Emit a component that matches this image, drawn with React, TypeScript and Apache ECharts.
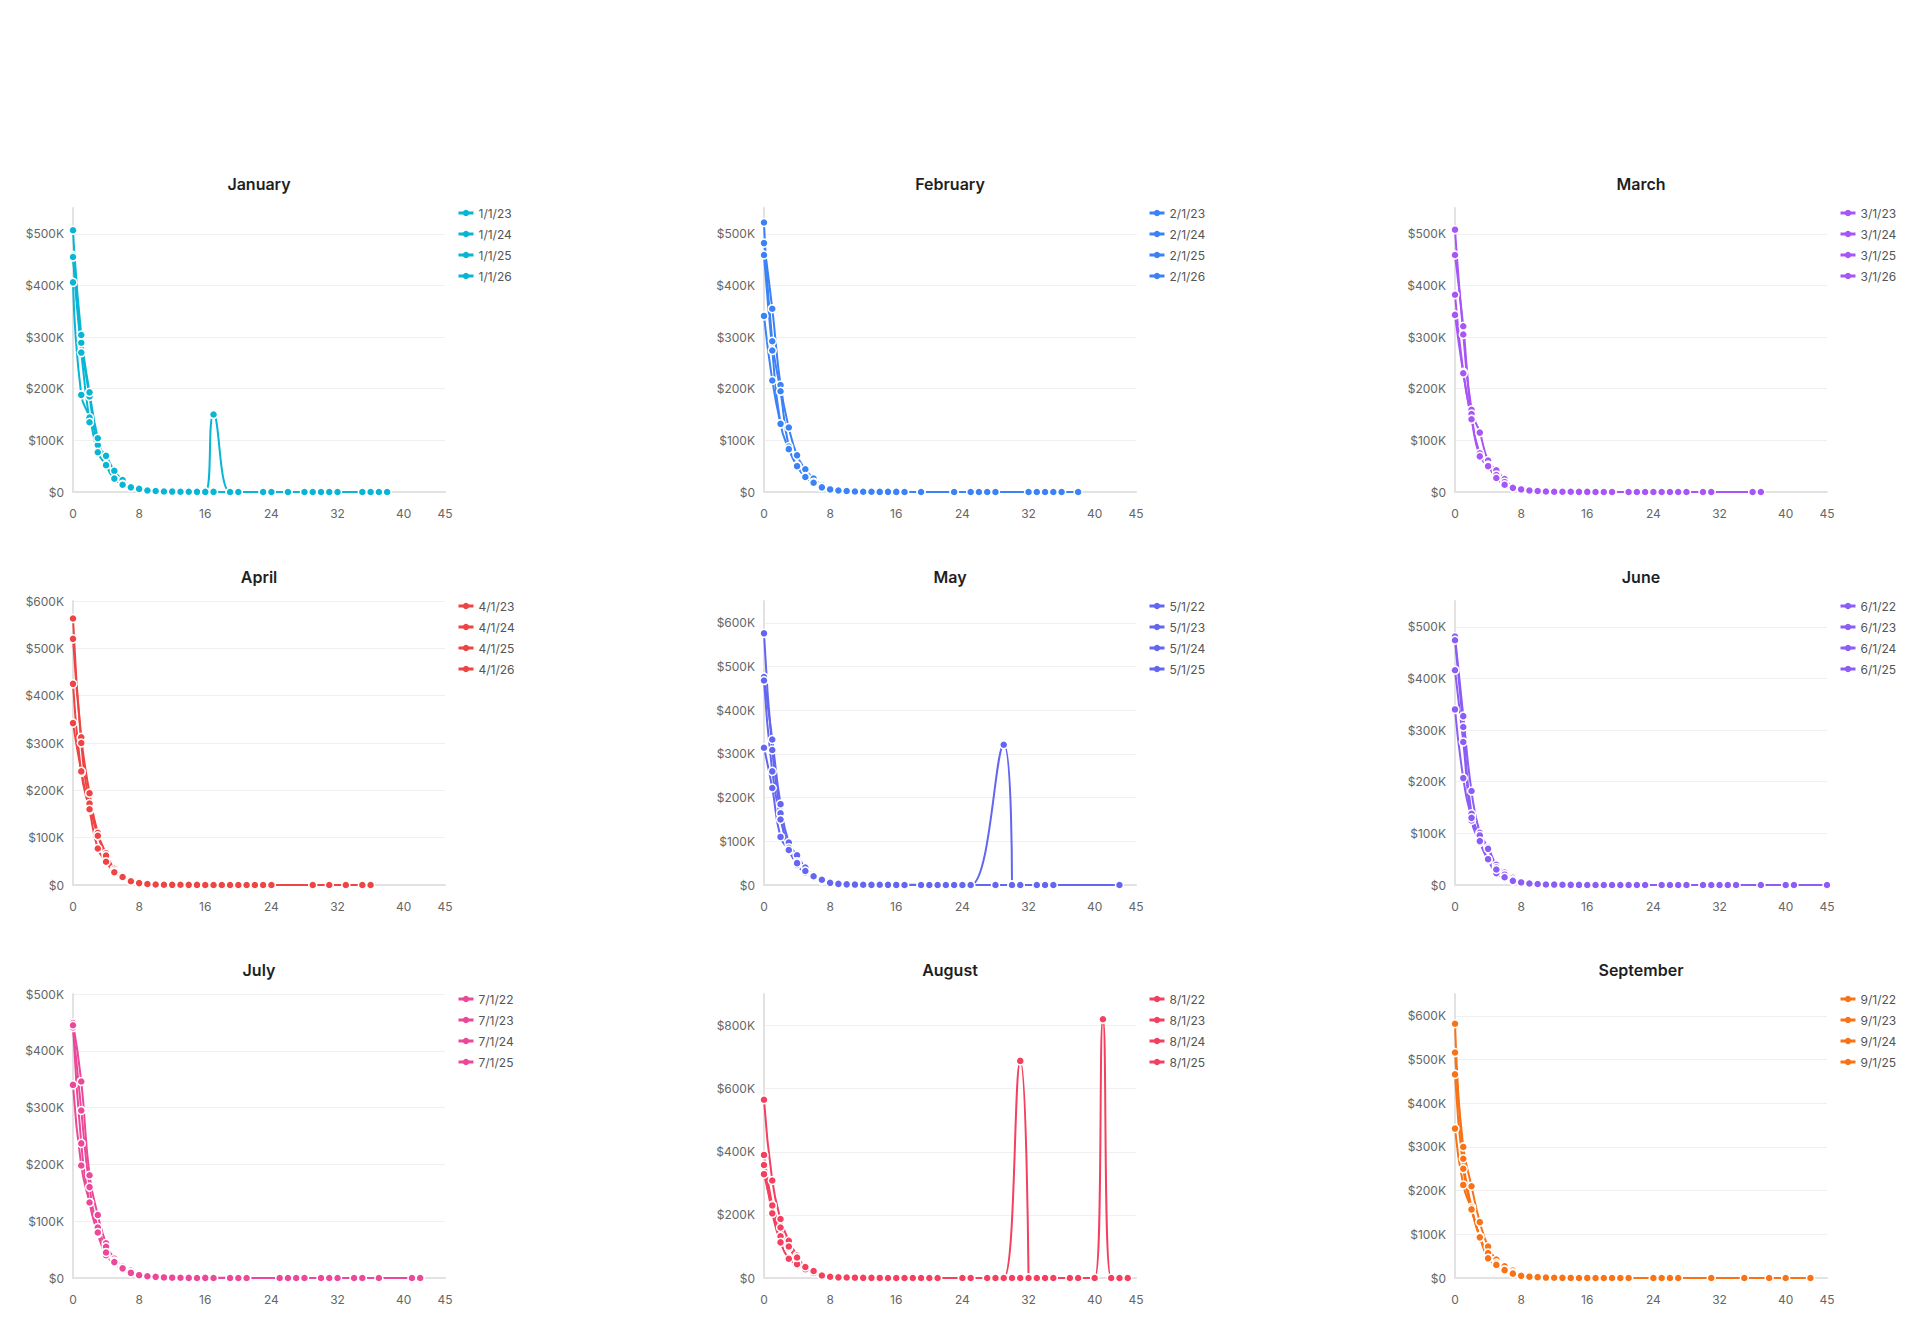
import React, { useEffect, useRef } from "react";
import * as echarts from "echarts";

// Cohort revenue decay by month, one panel per start month.
// Values are in thousands of dollars; x is the period index since the cohort start.

const janCohorts = ["1/1/23", "1/1/24", "1/1/25", "1/1/26"];
const janValues = [
  [[0,458],[1,289],[2,185],[3,91],[4,70],[5,41],[6,23],[7,12],[8,8],[9,3.5],[10,2.6],[11,1.6],[12,1.2],[13,0.9],[14,0.6],[15,0.5],[16,0.4],[17,0.3],[19,0.2],[20,0.2],[23,0.1],[24,0.1],[26,0.1],[28,0],[29,0],[30,0],[31,0],[32,0],[35,0],[36,0],[37,0],[38,0]],
  [[0,507],[1,304],[2,193],[3,104],[4,53],[5,26],[6,15],[7,10],[8,6],[9,3],[10,2],[11,1.2],[12,0.9],[13,0.6],[14,0.4],[15,0.3],[16,0.2],[17,150],[19,0],[20,0],[23,0],[24,0],[26,0]],
  [[0,406],[1,188],[2,144],[3,77],[4,52],[5,26],[6,14],[7,9],[8,6],[9,3],[10,2],[11,1],[12,0.8],[13,0.5]],
  [[0,455],[1,270],[2,135]],
];

const febCohorts = ["2/1/23", "2/1/24", "2/1/25", "2/1/26"];
const febValues = [
  [[0,482],[1,355],[2,207],[3,125],[4,71],[5,44],[6,26],[7,13.5],[8,7],[9,4],[10,2.5],[11,1.8],[12,1.2],[13,0.9],[14,0.6],[15,0.5],[16,0.4],[17,0.3],[19,0.2],[23,0.1],[25,0.1],[26,0],[27,0],[28,0],[32,0],[33,0],[34,0],[35,0],[36,0],[38,0]],
  [[0,522],[1,292],[2,195],[3,88],[4,51],[5,30],[6,19],[7,10],[8,6],[9,3.5],[10,2],[11,1.4],[12,1],[13,0.7],[14,0.5],[15,0.3],[16,0.2],[17,0.1],[19,0],[23,0],[25,0],[26,0],[27,0]],
  [[0,459],[1,274],[2,132],[3,83],[4,50],[5,29],[6,18],[7,9],[8,5],[9,3],[10,2],[11,1],[12,0.6],[13,0.4],[14,0.2]],
  [[0,341],[1,216],[2,132]],
];

const marCohorts = ["3/1/23", "3/1/24", "3/1/25", "3/1/26"];
const marValues = [
  [[0,459],[1,321],[2,159],[3,115],[4,61],[5,42],[6,25],[7,10],[8,6],[9,3.5],[10,2.5],[11,1.8],[12,1.2],[13,0.9],[14,0.7],[15,0.5],[16,0.4],[17,0.3],[18,0.2],[19,0.2],[21,0.1],[22,0.1],[23,0.1],[24,0],[25,0],[26,0],[27,0],[28,0],[30,0],[31,0],[36,0],[37,0]],
  [[0,508],[1,305],[2,151],[3,75],[4,52],[5,33],[6,19],[7,9],[8,5],[9,3],[10,2],[11,1.4],[12,1],[13,0.7],[14,0.5],[15,0.3],[16,0.2],[17,0.1],[18,0],[19,0],[21,0],[22,0],[23,0],[24,0],[25,0]],
  [[0,382],[1,232],[2,141],[3,69],[4,50],[5,27],[6,14],[7,8],[8,5],[9,3],[10,2],[11,1],[12,0.6],[13,0.4]],
  [[0,343],[1,230],[2,141]],
];

const aprCohorts = ["4/1/23", "4/1/24", "4/1/25", "4/1/26"];
const aprValues = [
  [[0,520],[1,312],[2,194],[3,110],[4,67],[5,34],[6,19],[7,10],[8,5],[9,3],[10,2],[11,1.5],[12,1],[13,0.8],[14,0.6],[15,0.5],[16,0.4],[17,0.3],[18,0.2],[19,0.2],[20,0.1],[21,0.1],[22,0.1],[23,0],[24,0],[29,0],[31,0],[33,0],[35,0],[36,0]],
  [[0,563],[1,300],[2,172],[3,104],[4,62],[5,30],[6,18],[7,9],[8,4],[9,2.5],[10,1.5],[11,1],[12,0.7],[13,0.5],[14,0.3],[15,0.2],[16,0.1],[17,0],[18,0],[19,0],[20,0],[21,0],[22,0],[23,0],[24,0]],
  [[0,425],[1,238],[2,158],[3,77],[4,49],[5,27],[6,17],[7,8],[8,4],[9,2],[10,1],[11,0.6],[12,0.4]],
  [[0,342],[1,240],[2,160]],
];

const mayCohorts = ["5/1/22", "5/1/23", "5/1/24", "5/1/25"];
const mayValues = [
  [[0,476],[1,333],[2,185],[3,97],[4,68],[5,40],[6,23],[7,13],[8,8],[9,4],[10,3],[11,2],[12,1.5],[13,1],[14,0.8],[15,0.6],[16,0.5],[17,0.4],[19,0.3],[20,0.2],[21,0.2],[22,0.1],[23,0.1],[24,0.1],[25,0],[28,0],[30,0],[31,0],[33,0],[34,0],[35,0],[43,0]],
  [[0,576],[1,309],[2,164],[3,78],[4,53],[5,30],[6,20],[7,11],[8,6],[9,3],[10,2],[11,1.4],[12,1],[13,0.7],[14,0.5],[15,0.3],[16,0.2],[17,0.1],[19,0],[20,0],[21,0],[22,0],[23,0],[24,0],[25,0],[29,321],[30,0]],
  [[0,468],[1,260],[2,150],[3,85],[4,46],[5,28],[6,18],[7,10],[8,5],[9,2.5],[10,1.5],[11,1],[12,0.6],[13,0.3]],
  [[0,314],[1,222],[2,110],[3,80],[4,50],[5,32],[6,20],[7,12]],
];

const junCohorts = ["6/1/22", "6/1/23", "6/1/24", "6/1/25"];
const junValues = [
  [[0,481],[1,327],[2,182],[3,101],[4,73],[5,39],[6,24],[7,14],[8,7],[9,3.5],[10,2.5],[11,2],[12,1.5],[13,1.2],[14,1],[15,0.8],[16,0.6],[17,0.5],[18,0.4],[19,0.3],[20,0.3],[21,0.2],[22,0.2],[23,0.1],[25,0.1],[26,0],[27,0],[28,0],[30,0],[31,0],[32,0],[33,0],[34,0],[37,0],[40,0],[41,0],[45,0]],
  [[0,474],[1,306],[2,138],[3,96],[4,70],[5,34],[6,20],[7,10],[8,6],[9,3],[10,2],[11,1.5],[12,1],[13,0.8],[14,0.6],[15,0.4],[16,0.3],[17,0.2],[18,0.1],[19,0],[20,0],[21,0],[22,0],[23,0],[25,0],[26,0],[27,0],[28,0],[30,0]],
  [[0,416],[1,277],[2,125],[3,82],[4,48],[5,23],[6,13],[7,8],[8,5],[9,3],[10,2],[11,1],[12,0.8],[13,0.5],[14,0.3],[15,0.2],[16,0.1],[17,0],[18,0]],
  [[0,340],[1,207],[2,130],[3,85],[4,50],[5,30],[6,15],[7,8]],
];

const julCohorts = ["7/1/22", "7/1/23", "7/1/24", "7/1/25"];
const julValues = [
  [[0,449],[1,346],[2,181],[3,111],[4,61],[5,34],[6,20],[7,13],[8,7],[9,4],[10,2.5],[11,2],[12,1.5],[13,1.2],[14,1],[15,0.8],[16,0.6],[17,0.5],[19,0.4],[20,0.3],[21,0.2],[25,0.1],[26,0.1],[27,0],[28,0],[30,0],[31,0],[32,0],[34,0],[35,0],[37,0],[41,0],[42,0]],
  [[0,441],[1,295],[2,160],[3,89],[4,55],[5,30],[6,17],[7,10],[8,6],[9,3.5],[10,2],[11,1.5],[12,1],[13,0.8],[14,0.5],[15,0.3],[16,0.2],[17,0.1],[19,0],[20,0],[21,0],[25,0],[26,0],[27,0],[28,0]],
  [[0,445],[1,237],[2,133],[3,78],[4,40],[5,26],[6,15],[7,9],[8,5],[9,3],[10,2],[11,1],[12,0.6],[13,0.4],[14,0.2],[15,0.1]],
  [[0,340],[1,198],[2,133],[3,80],[4,45],[5,28],[6,17]],
];

const augCohorts = ["8/1/22", "8/1/23", "8/1/24", "8/1/25"];
const augValues = [
  [[0,565],[1,309],[2,187],[3,118],[4,71],[5,32],[6,20],[7,10],[8,5],[9,3],[10,2.5],[11,2],[12,1.5],[13,1.2],[14,1],[15,0.8],[16,0.6],[17,0.5],[18,0.4],[19,0.3],[20,0.2],[21,0.2],[24,0.1],[25,0.1],[27,0],[28,0],[29,0],[30,0],[31,0],[32,0],[33,0],[34,0],[35,0],[37,0],[38,0],[40,0],[41,820],[42,0],[43,0],[44,0]],
  [[0,390],[1,230],[2,132],[3,95],[4,60],[5,30],[6,18],[7,9],[8,5],[9,3],[10,2],[11,1.5],[12,1],[13,0.8],[14,0.6],[15,0.4],[16,0.3],[17,0.2],[18,0.1],[19,0],[20,0],[21,0],[24,0],[25,0],[27,0],[28,0],[29,0],[31,688],[32,0]],
  [[0,358],[1,205],[2,113],[3,61],[4,44],[5,28],[6,16],[7,8],[8,4],[9,2],[10,1.5],[11,1],[12,0.6],[13,0.4],[14,0.2],[15,0.1],[16,0],[17,0]],
  [[0,329],[1,230],[2,160],[3,100],[4,65],[5,35],[6,22]],
];

const sepCohorts = ["9/1/22", "9/1/23", "9/1/24", "9/1/25"];
const sepValues = [
  [[0,516],[1,300],[2,210],[3,128],[4,72],[5,42],[6,27],[7,17],[8,7],[9,4],[10,3],[11,2.5],[12,2],[13,1.5],[14,1.2],[15,1],[16,0.8],[17,0.6],[18,0.5],[19,0.4],[20,0.3],[21,0.2],[24,0.1],[25,0.1],[26,0],[27,0],[31,0],[35,0],[38,0],[40,0],[43,0]],
  [[0,582],[1,273],[2,162],[3,93],[4,57],[5,34],[6,19],[7,12],[8,6],[9,3],[10,2],[11,1.5],[12,1],[13,0.8],[14,0.5],[15,0.3],[16,0.2],[17,0.1],[18,0],[19,0],[20,0],[21,0],[24,0],[25,0],[26,0],[27,0]],
  [[0,466],[1,250],[2,157],[3,95],[4,45],[5,30],[6,18],[7,10],[8,5],[9,3],[10,2],[11,1],[12,0.6],[13,0.3],[14,0.2],[15,0]],
  [[0,342],[1,213],[2,157],[3,93],[4,45]],
];

const xTicks = { min: 0, max: 45, step: 8 };

const panels = [
  { title: "January", color: "#06b6d4", cohorts: janCohorts, values: janValues, yMax: 550, yStep: 100 },
  { title: "February", color: "#3b82f6", cohorts: febCohorts, values: febValues, yMax: 550, yStep: 100 },
  { title: "March", color: "#a855f7", cohorts: marCohorts, values: marValues, yMax: 550, yStep: 100 },
  { title: "April", color: "#ef4444", cohorts: aprCohorts, values: aprValues, yMax: 600, yStep: 100 },
  { title: "May", color: "#6366f1", cohorts: mayCohorts, values: mayValues, yMax: 650, yStep: 100 },
  { title: "June", color: "#8b5cf6", cohorts: junCohorts, values: junValues, yMax: 550, yStep: 100 },
  { title: "July", color: "#ec4899", cohorts: julCohorts, values: julValues, yMax: 500, yStep: 100 },
  { title: "August", color: "#f43f5e", cohorts: augCohorts, values: augValues, yMax: 900, yStep: 200 },
  { title: "September", color: "#f97316", cohorts: sepCohorts, values: sepValues, yMax: 650, yStep: 100 },
];

// Panel layout in page pixels
const COL_LEFT = [73, 764, 1455];
const GRID_WIDTH = 372;
const ROW_TOP = [208, 601, 994];
const GRID_HEIGHT = 284;

const FONT = "Inter, 'Noto Sans', sans-serif";

function money(v: number) {
  return v === 0 ? "$0" : `$${v}K`;
}

function buildOption() {
  const grid: any[] = [];
  const xAxis: any[] = [];
  const yAxis: any[] = [];
  const title: any[] = [];
  const legend: any[] = [];
  const series: any[] = [];

  panels.forEach((p, i) => {
    const col = i % 3;
    const row = Math.floor(i / 3);
    const left = COL_LEFT[col];
    const width = GRID_WIDTH;
    const top = ROW_TOP[row];
    const alignedTop = p.yMax % p.yStep === 0;

    grid.push({ left, top, width, height: GRID_HEIGHT, containLabel: false });

    title.push({
      text: p.title,
      left: left + width / 2,
      top: top - 33,
      textAlign: "center",
      padding: 0,
      textStyle: { fontSize: 16, fontWeight: 600, color: "#1f1f1f", fontFamily: FONT, lineHeight: 18 },
    });

    legend.push({
      orient: "vertical",
      left: left + width + 12,
      top: top - 2,
      padding: 0,
      itemWidth: 15,
      itemHeight: 8,
      itemGap: 7,
      data: p.cohorts,
      selectedMode: false,
      itemStyle: { borderWidth: 0 },
      lineStyle: { width: 3 },
      textStyle: { fontSize: 12, color: "#555", fontFamily: FONT, lineHeight: 14 },
    });

    xAxis.push({
      type: "value",
      gridIndex: i,
      min: xTicks.min,
      max: xTicks.max,
      interval: xTicks.step,
      axisLine: { show: true, lineStyle: { color: "#e2e2e2", width: 2 } },
      axisTick: { show: false },
      splitLine: { show: false },
      axisLabel: { color: "#666", fontSize: 12, fontFamily: FONT, margin: 15 },
    });

    yAxis.push({
      type: "value",
      gridIndex: i,
      min: 0,
      max: p.yMax,
      interval: p.yStep,
      axisLine: { show: true, lineStyle: { color: "#e2e2e2", width: 2 } },
      axisTick: { show: false },
      splitLine: { show: true, showMaxLine: alignedTop, lineStyle: { color: "#f0f0f0", width: 1 } },
      axisLabel: {
        color: "#666",
        fontSize: 12,
        fontFamily: FONT,
        margin: 9,
        showMaxLabel: alignedTop,
        formatter: money,
      },
    });

    p.cohorts.forEach((name, k) => {
      series.push({
        type: "line",
        name,
        xAxisIndex: i,
        yAxisIndex: i,
        data: p.values[k],
        smooth: true,
        symbol: "circle",
        symbolSize: 8,
        showAllSymbol: true,
        lineStyle: { width: 2, color: p.color },
        itemStyle: { color: p.color, borderColor: "#ffffff", borderWidth: 1.5 },
        emphasis: { disabled: true },
      });
    });
  });

  return {
    animation: false,
    backgroundColor: "#ffffff",
    textStyle: { fontFamily: FONT },
    title,
    legend,
    grid,
    xAxis,
    yAxis,
    series,
  };
}

export default function App() {
  const ref = useRef<HTMLDivElement>(null);

  useEffect(() => {
    if (!ref.current) return;
    const chart = echarts.init(ref.current, undefined, { renderer: "svg" });
    chart.setOption(buildOption());
    return () => chart.dispose();
  }, []);

  return (
    <div
      ref={ref}
      style={{ position: "fixed", left: 0, top: 0, width: 1921, height: 1322, background: "#fff" }}
    />
  );
}
